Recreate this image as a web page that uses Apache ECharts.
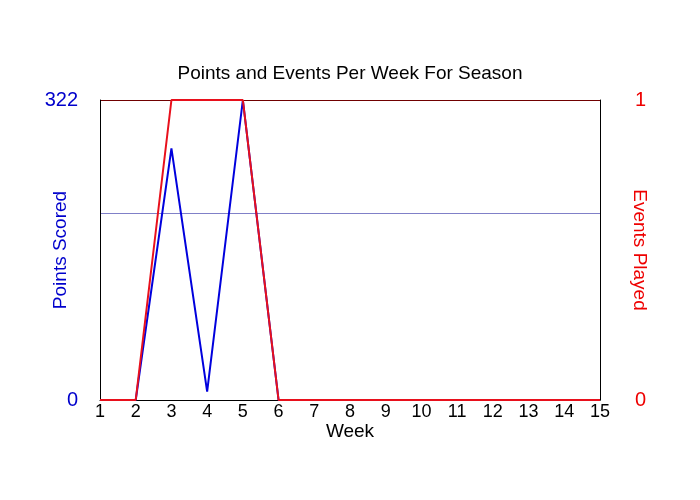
<!DOCTYPE html>
<html>
<head>
<meta charset="utf-8">
<script src="https://cdn.jsdelivr.net/npm/echarts@6/dist/echarts.min.js"></script>
<style>html,body{margin:0;padding:0;background:#fff}#c{width:700px;height:500px}</style>
</head>
<body>
<div id="c"></div>
<script>
var weeks = ['1','2','3','4','5','6','7','8','9','10','11','12','13','14','15'];
var pointsScored = [0, 0, 270, 9, 322, 0, 0, 0, 0, 0, 0, 0, 0, 0, 0];
var eventsPlayed = [0, 0, 1, 1, 1, 0, 0, 0, 0, 0, 0, 0, 0, 0, 0];
var pointsTicks = [0, 322];
var eventsTicks = [0, 1];

var chart = echarts.init(document.getElementById('c'));
var font = 'Liberation Sans, Arial, sans-serif';
chart.setOption({
  animation: false,
  title: {
    text: 'Points and Events Per Week For Season',
    left: 'center', top: 59,
    textStyle: { fontFamily: font, fontSize: 19, fontWeight: 'normal', color: '#000' }
  },
  grid: { left: 100, right: 100, top: 100, bottom: 100, show: false },
  xAxis: {
    type: 'category', data: weeks, boundaryGap: false,
    name: 'Week', nameLocation: 'middle', nameGap: 22, nameMoveOverlap: false,
    nameTextStyle: { fontFamily: font, fontSize: 19, color: '#000' },
    axisLine: { lineStyle: { color: '#000', width: 1 } },
    axisTick: { show: false },
    axisLabel: { fontFamily: font, fontSize: 18, color: '#000', margin: 3, interval: 0 },
    splitLine: { show: false }
  },
  yAxis: [{
    type: 'value', min: 0, max: 322, interval: 200, position: 'left',
    name: 'Points Scored', nameLocation: 'middle', nameGap: 30, nameRotate: 90, nameMoveOverlap: false,
    nameTextStyle: { fontFamily: font, fontSize: 19, color: '#0000cc' },
    axisLine: { show: true, lineStyle: { color: '#000', width: 1 } },
    axisTick: { show: false },
    axisLabel: { customValues: pointsTicks, fontFamily: font, fontSize: 20, color: '#0000cc', margin: 22 },
    splitLine: { show: true, showMinLine: false, showMaxLine: false, lineStyle: { color: '#8080c8', width: 1 } }
  }, {
    type: 'value', min: 0, max: 1, interval: 1, position: 'right',
    name: 'Events Played', nameLocation: 'middle', nameGap: 30, nameRotate: -90, nameMoveOverlap: false,
    nameTextStyle: { fontFamily: font, fontSize: 19, color: '#ee0000' },
    axisLine: { show: true, lineStyle: { color: '#000', width: 1 } },
    axisTick: { show: false },
    axisLabel: { customValues: eventsTicks, fontFamily: font, fontSize: 20, color: '#ee0000', margin: 35 },
    splitLine: { show: true, showMinLine: false, lineStyle: { color: '#700000', width: 1 } }
  }],
  series: [{
    type: 'line', name: 'Points Scored', data: pointsScored, yAxisIndex: 0,
    symbol: 'none', lineStyle: { color: '#0000dd', width: 2 }, z: 3
  }, {
    type: 'line', name: 'Events Played', data: eventsPlayed, yAxisIndex: 1,
    symbol: 'none', lineStyle: { color: '#e8101c', width: 2 }, z: 4
  }]
});
</script>
</body>
</html>
